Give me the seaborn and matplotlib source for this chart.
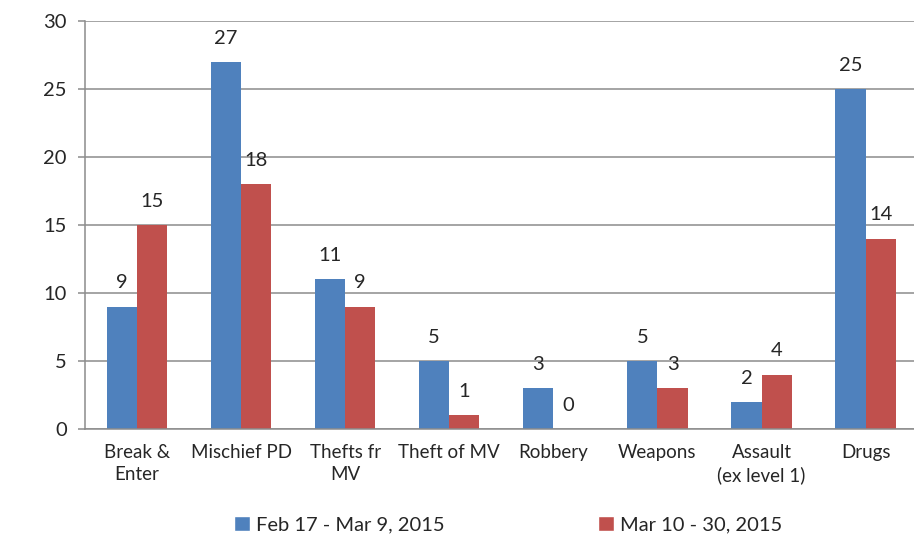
import numpy as np
import matplotlib.pyplot as plt
import seaborn as sns
import pandas as pd
from matplotlib.patches import Patch

categories = ["Break &\nEnter", "Mischief PD", "Thefts fr\nMV", "Theft of MV",
              "Robbery", "Weapons", "Assault\n(ex level 1)", "Drugs"]
series_names = ["Feb 17 - Mar 9, 2015", "Mar 10 - 30, 2015"]
feb_values = [9, 27, 11, 5, 3, 5, 2, 25]
mar_values = [15, 18, 9, 1, 0, 3, 4, 14]
colors = ["#4F81BD", "#C0504D"]

df = pd.DataFrame({
    "category": categories * 2,
    "period": [series_names[0]] * len(categories) + [series_names[1]] * len(categories),
    "count": feb_values + mar_values,
})

sns.set_style("white")
plt.rcParams['font.family'] = ['Lato', 'DejaVu Sans']

fig = plt.figure(figsize=(9.14, 5.41), dpi=100)
ax = fig.add_axes([0.093, 0.207, 0.911, 0.754])

sns.barplot(data=df, x="category", y="count", hue="period", order=categories,
            hue_order=series_names, palette=colors, width=0.58,
            saturation=1, legend=False, linewidth=0, edgecolor="none", ax=ax)

# value labels above every bar
for cont in ax.containers:
    ax.bar_label(cont, padding=11, fontsize=14.5)

ax.set_ylim(0, 30)
ax.set_yticks(np.arange(0, 31, 5))
ax.set_xlim(-0.5, 7.47)
ax.yaxis.grid(True, color="#8c8c8c", linewidth=1.1)
ax.set_axisbelow(True)
ax.set_xlabel("")
ax.set_ylabel("")

for s in ["top", "right"]:
    ax.spines[s].set_visible(False)
for s in ["left", "bottom"]:
    ax.spines[s].set_color("#8c8c8c")
    ax.spines[s].set_linewidth(1.1)

# tick marks between categories
ax.set_xticks(np.arange(-0.5, 8, 1), minor=True)
ax.tick_params(axis="x", which="major", length=0, pad=11, labelsize=13.5)
ax.tick_params(axis="x", which="minor", length=5, width=1.1, color="#8c8c8c", direction="out")
ax.tick_params(axis="y", length=5, width=1.1, color="#8c8c8c", direction="out",
               left=True, pad=8, labelsize=14.5)
for lbl in ax.get_xticklabels():
    lbl.set_linespacing(1.35)

handles = [Patch(facecolor=c, label=n) for c, n in zip(colors, series_names)]
fig.legend(handles=handles, loc="lower center", bbox_to_anchor=(0.556, -0.02), ncol=2,
           frameon=False, fontsize=14.5, handlelength=0.8, handleheight=0.8,
           handletextpad=0.3, columnspacing=7.6)

plt.savefig("out.png", dpi=100)
